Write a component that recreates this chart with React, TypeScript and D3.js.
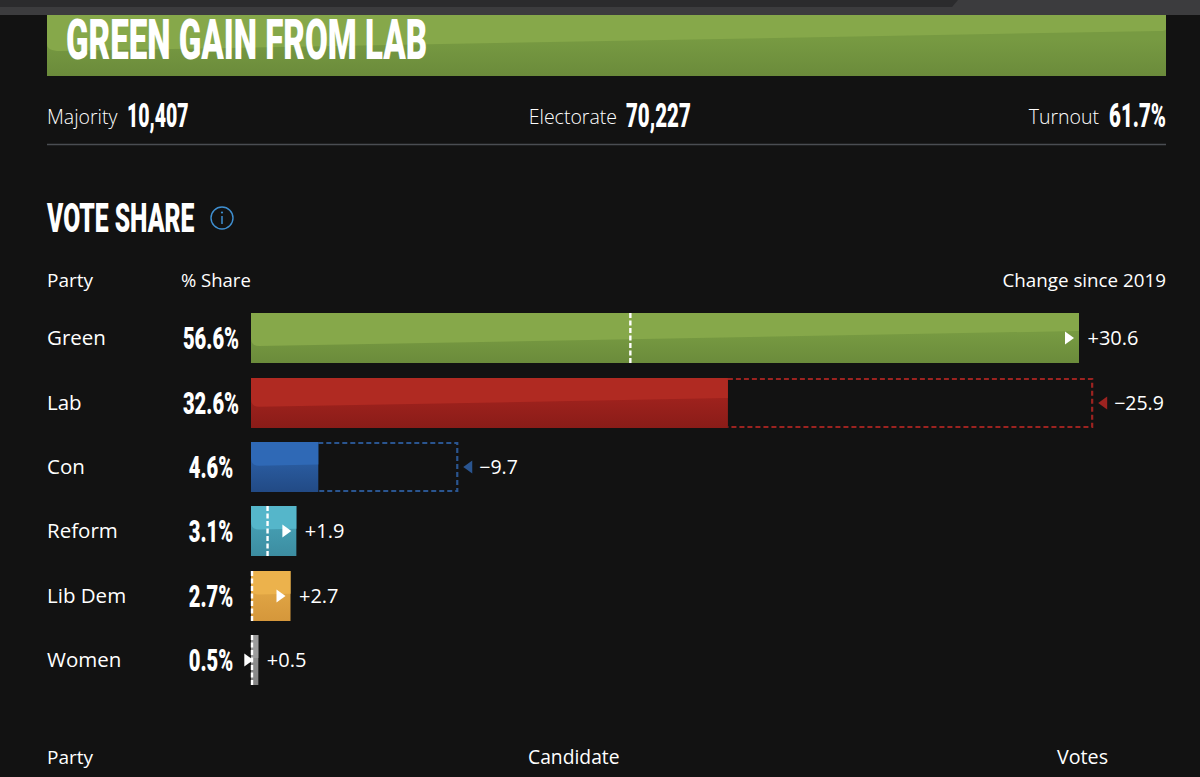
import React, { useEffect, useRef } from 'react'
import * as d3 from 'd3'

const parties = ['Green', 'Lab', 'Con', 'Reform', 'Lib Dem', 'Women']
const shares = [56.6, 32.6, 4.6, 3.1, 2.7, 0.5]
const changes = [30.6, -25.9, -9.7, 1.9, 2.7, 0.5]
const priorShares = [26, 57.5, 14.1, 1.2, 0, 0]

const stats = [
  { label: 'Majority', value: '10,407' },
  { label: 'Electorate', value: '70,227' },
  { label: 'Turnout', value: '61.7%' },
]

const palette: Record<string, { gloss: string; top: string; bottom: string; dash: string }> = {
  Green: { gloss: '#86a84a', top: '#779a42', bottom: '#6b8b3b', dash: '#ffffff' },
  Lab: { gloss: '#b02a22', top: '#9e221d', bottom: '#8a1c18', dash: '#9c2320' },
  Con: { gloss: '#2f69b6', top: '#2a5ca0', bottom: '#224a85', dash: '#2a5590' },
  Reform: { gloss: '#55b6ca', top: '#459db1', bottom: '#3c8da1', dash: '#ffffff' },
  'Lib Dem': { gloss: '#ecb24c', top: '#e0a544', bottom: '#d5973b', dash: '#ffffff' },
  Women: { gloss: '#9c9c9c', top: '#8e8e8e', bottom: '#848484', dash: '#ffffff' },
}

const WIDTH = 1200
const HEIGHT = 777
const BODY_FONT = '"Open Sans", "Noto Sans", sans-serif'
const HEAD_FONT = 'Roboto, "Liberation Sans", sans-serif'

const fmtChange = (v: number) => (v > 0 ? '+' : '\u2212') + Math.abs(v).toFixed(1)

export default function App() {
  const svgRef = useRef<SVGSVGElement>(null)

  useEffect(() => {
    if (!svgRef.current) return
    const svg = d3.select(svgRef.current)
    svg.selectAll('*').remove()

    const defs = svg.append('defs')
    Object.entries(palette).forEach(([name, c], i) => {
      const grad = defs.append('linearGradient')
        .attr('id', `bar-${i}`)
        .attr('x1', 0).attr('x2', 0).attr('y1', 0).attr('y2', 1)
      grad.append('stop').attr('offset', '40%').attr('stop-color', c.top)
      grad.append('stop').attr('offset', '100%').attr('stop-color', c.bottom)
    })

    svg.append('rect').attr('width', WIDTH).attr('height', HEIGHT).attr('fill', '#121212')

    // Browser chrome at the very top of the screenshot
    svg.append('rect').attr('width', WIDTH).attr('height', 15).attr('fill', '#3c3c3e')
    svg.append('path').attr('d', 'M0,0H958L952,7H0Z').attr('fill', '#2b2b2d')

    // Condensed headline text: no condensed face installed, so squeeze Roboto
    const squeezed = (
      x: number, y: number, text: string, size: number, k: number, anchor: string,
    ) => svg.append('text')
      .attr('transform', `translate(${x},${y}) scale(${k},1)`)
      .attr('text-anchor', anchor)
      .attr('font-family', HEAD_FONT)
      .attr('font-weight', 900)
      .attr('font-size', size)
      .attr('fill', '#fff')
      .text(text)

    const body = (
      x: number, y: number, text: string, size: number, anchor = 'start', weight = 400,
    ) => svg.append('text')
      .attr('x', x)
      .attr('y', y)
      .attr('text-anchor', anchor)
      .attr('font-family', BODY_FONT)
      .attr('font-weight', weight)
      .attr('font-size', size)
      .attr('fill', '#fff')
      .text(text)

    // Banner
    svg.append('rect').attr('x', 47).attr('y', 15).attr('width', 1119).attr('height', 61)
      .attr('fill', 'url(#bar-0)')
    svg.append('path')
      .attr('d', 'M47,15H1166V29Q1166,31 1160,31L60,51Q47,51 47,44Z')
      .attr('fill', palette.Green.gloss)
    squeezed(66, 59, 'GREEN GAIN FROM LAB', 56, 0.591, 'start')

    // Stat line
    body(47, 124, stats[0].label, 19.5, 'start', 300)
    squeezed(127, 127, stats[0].value, 33, 0.59, 'start')
    body(617, 124, stats[1].label, 19.5, 'end', 300)
    squeezed(626, 127, stats[1].value, 33, 0.62, 'start')
    body(1099, 124, stats[2].label, 19.5, 'end', 300)
    squeezed(1166, 127, stats[2].value, 33, 0.62, 'end')
    svg.append('line').attr('x1', 47).attr('x2', 1166).attr('y1', 144.5).attr('y2', 144.5)
      .attr('stroke', '#4a4d52').attr('stroke-width', 1.5)

    // Section title
    squeezed(47, 232, 'VOTE SHARE', 40, 0.617, 'start')
    const info = svg.append('g').attr('transform', 'translate(222,218)')
    info.append('circle').attr('r', 11).attr('fill', 'none')
      .attr('stroke', '#3f8fd0').attr('stroke-width', 1.4)
    info.append('circle').attr('cy', -5.5).attr('r', 1.1).attr('fill', '#3f8fd0')
    info.append('line').attr('y1', -2).attr('y2', 6).attr('stroke', '#3f8fd0').attr('stroke-width', 1.5)

    // Column heads
    body(47, 287, 'Party', 19)
    body(181, 287, '% Share', 18.5)
    body(1166, 287, 'Change since 2019', 18.8, 'end')

    const x = d3.scaleLinear().domain([0, 56.6]).range([251, 1079])
    const y = d3.scaleBand<string>().domain(parties).range([313.2, 685.2]).paddingInner(0.2236)
    const bh = y.bandwidth()

    parties.forEach((party, i) => {
      const c = palette[party]
      const top = Math.round(y(party) || 0)
      const mid = top + bh / 2
      const x0 = x(0)
      const x1 = x(shares[i])
      const prior = x(priorShares[i])
      const frac = (x1 - x0) / (x(56.6) - x0)

      body(47, mid + 7, party, 20.5)
      squeezed(211, mid + 11, `${shares[i]}%`, 32, 0.63, 'middle')

      // Dashed outline of the 2019 share for parties that lost ground
      if (changes[i] < 0) {
        const outline = d3.path()
        outline.moveTo(x1, top + 1)
        outline.lineTo(prior, top + 1)
        outline.lineTo(prior, top + bh - 1)
        outline.lineTo(x1, top + bh - 1)
        svg.append('path')
          .attr('d', outline.toString())
          .attr('fill', 'none')
          .attr('stroke', c.dash)
          .attr('stroke-width', 2.2)
          .attr('stroke-dasharray', '5 3')
      }

      svg.append('rect')
        .attr('x', x0).attr('y', top)
        .attr('width', x1 - x0).attr('height', bh)
        .attr('fill', `url(#bar-${i})`)

      // Glossy upper part with a slightly sloping lower edge
      const yl = top + bh * (0.46 + 0.2 * frac)
      const yr = top + bh * (0.46 - 0.1 * frac)
      const r = Math.min(8, (x1 - x0) / 4)
      const gloss = d3.path()
      gloss.moveTo(x0, top)
      gloss.lineTo(x1, top)
      gloss.lineTo(x1, yr)
      gloss.lineTo(x0 + r, yl)
      gloss.quadraticCurveTo(x0, yl, x0, yl - r)
      gloss.closePath()
      svg.append('path').attr('d', gloss.toString()).attr('fill', c.gloss)

      if (changes[i] > 0) {
        // White dashed tick at the 2019 share
        const tickX = Math.max(prior - 1, x0 + 1)
        svg.append('line')
          .attr('x1', tickX).attr('x2', tickX)
          .attr('y1', top).attr('y2', top + bh)
          .attr('stroke', '#fff')
          .attr('stroke-width', 2.4)
          .attr('stroke-dasharray', '5 2.5')
        const tip = x1 - 5
        svg.append('path')
          .attr('d', d3.line()([[tip - 9, mid - 6.5], [tip, mid], [tip - 9, mid + 6.5]]) + 'Z')
          .attr('fill', '#fff')
        body(x1 + 8.5, mid + 7, fmtChange(changes[i]), 20)
      } else {
        const tip = prior + 6
        svg.append('path')
          .attr('d', d3.line()([[tip + 9, mid - 6.5], [tip, mid], [tip + 9, mid + 6.5]]) + 'Z')
          .attr('fill', c.dash)
        body(prior + 22, mid + 7, fmtChange(changes[i]), 19.5)
      }
    })

    // Start of the candidate table
    body(47, 764, 'Party', 19)
    body(528, 764, 'Candidate', 19.3)
    body(1057, 764, 'Votes', 19.7)
  }, [])

  return (
    <svg
      ref={svgRef}
      width={WIDTH}
      height={HEIGHT}
      style={{ position: 'absolute', left: 0, top: 0, display: 'block' }}
    />
  )
}
